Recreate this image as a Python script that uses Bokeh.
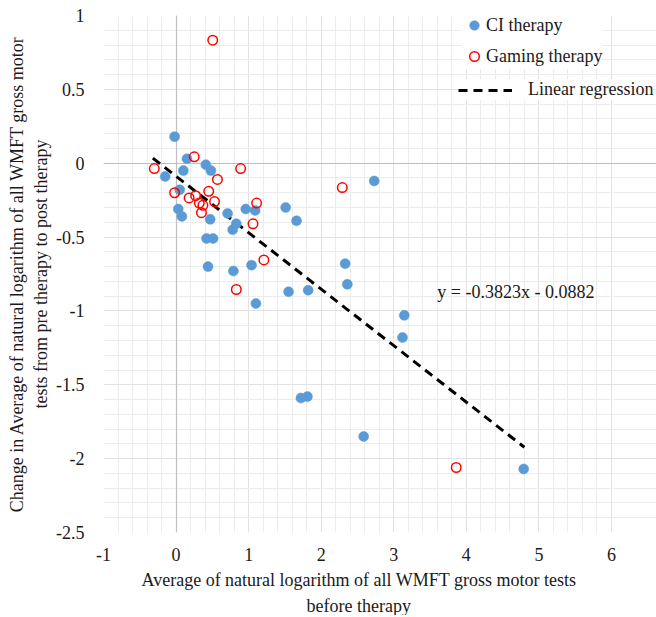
import numpy as np
from bokeh.plotting import figure
from bokeh.models import (Range1d, FixedTicker, Label, Legend, LegendItem, Grid, Title,
                          CustomJSTickFormatter)
from bokeh.embed import file_html
from bokeh.resources import INLINE

# ---- data ----
ci_x = [-0.02, 0.15, 0.41, 0.48, 0.10, -0.15, 0.05, 0.03, 0.08, 0.47, 0.71, 0.78,
        0.83, 0.96, 1.09, 0.42, 0.51, 1.51, 1.66, 0.44, 0.79, 1.04, 1.55, 1.82,
        1.10, 1.72, 1.81, 2.73, 2.33, 2.36, 3.145, 3.12, 2.585, 4.79]
ci_y = [0.18, 0.03, -0.01, -0.05, -0.05, -0.09, -0.18, -0.31, -0.36, -0.38, -0.34, -0.45,
        -0.41, -0.31, -0.32, -0.51, -0.51, -0.30, -0.39, -0.70, -0.73, -0.69, -0.87, -0.86,
        -0.95, -1.59, -1.58, -0.12, -0.68, -0.82, -1.03, -1.18, -1.85, -2.07]

gm_x = [0.505, -0.30, 0.25, 0.89, 0.57, -0.02, 0.45, 0.18, 0.27, 0.32, 0.37, 0.35,
        0.53, 1.11, 1.06, 1.21, 0.83, 2.29, 3.86]
gm_y = [0.833, -0.036, 0.043, -0.036, -0.11, -0.20, -0.19, -0.235, -0.22, -0.27, -0.285, -0.335,
        -0.26, -0.27, -0.41, -0.655, -0.855, -0.165, -2.06]

reg_slope = -0.3823
reg_intercept = -0.0882
reg_x = [-0.32, 4.80]
reg_label = "y = -0.3823x - 0.0882"

x_ticks = [-1, 0, 1, 2, 3, 4, 5, 6]
x_tick_labels = ["-1", "0", "1", "2", "3", "4", "5", "6"]
y_ticks = [-2.5, -2, -1.5, -1, -0.5, 0, 0.5, 1]
y_tick_labels = ["-2.5", "-2", "-1.5", "-1", "-0.5", "0", "0.5", "1"]

x_title_lines = ["Average of natural logarithm of all WMFT gross motor tests", "before therapy"]
y_title = "Change in Average of natural logarithm of all WMFT gross motor\ntests from pre therapy to post therapy"

FONT = "'Liberation Serif', serif"
FS = "18px"
TXT = "#1a1a1a"

X_LO, X_HI = x_ticks[0], x_ticks[-1]
# frame extends a little past x=6 so the legend text can run to the right edge
X_VIEW_HI = X_HI + 0.62

p = figure(output_backend="svg", toolbar_location=None,
           x_range=Range1d(X_LO, X_VIEW_HI), y_range=Range1d(y_ticks[0], y_ticks[-1]),
           frame_width=553, frame_height=517,
           min_border_left=103, min_border_right=0, min_border_top=15, min_border_bottom=4)
p.outline_line_color = None
p.background_fill_color = "white"

# ticks & grids
x_minor = list(np.round(np.arange(X_LO, X_HI + 0.0001, 0.2), 4))
y_minor = list(np.round(np.arange(y_ticks[0], y_ticks[-1] + 0.0001, 0.1), 4))
p.xaxis.ticker = FixedTicker(ticks=x_ticks, minor_ticks=x_minor)
p.yaxis.ticker = FixedTicker(ticks=y_ticks, minor_ticks=y_minor)
fmt_code = ("let best = 0; let d = 1e9;"
            "for (let i = 0; i < tk.length; i++) { const e = Math.abs(tk[i] - tick);"
            " if (e < d) { d = e; best = i; } }"
            "return lb[best];")
p.xaxis.formatter = CustomJSTickFormatter(args=dict(tk=x_ticks, lb=x_tick_labels), code=fmt_code)
p.yaxis.formatter = CustomJSTickFormatter(args=dict(tk=y_ticks, lb=y_tick_labels), code=fmt_code)

for g in (p.xgrid, p.ygrid):
    g.grid_line_color = "#E2E2E2"
    g.grid_line_width = 1
    g.minor_grid_line_color = "#ECECEC"
    g.minor_grid_line_width = 1
p.ygrid.bounds = (X_LO, X_HI)

for ax in (p.xaxis[0], p.yaxis[0]):
    ax.axis_line_color = None
    ax.major_tick_line_color = None
    ax.minor_tick_line_color = None
    ax.major_label_text_font = FONT
    ax.major_label_text_font_size = FS
    ax.major_label_text_font_style = "normal"
    ax.major_label_text_color = TXT
    ax.axis_label_text_font = FONT
    ax.axis_label_text_font_size = FS
    ax.axis_label_text_font_style = "normal"
    ax.axis_label_text_color = TXT
p.xaxis[0].major_label_standoff = 9
p.yaxis[0].major_label_standoff = 13

p.xaxis.bounds = (X_LO, X_HI)
p.yaxis.axis_label = y_title
p.yaxis.axis_label_standoff = 2

# x-axis title as two centred lines below the axis (centred on the -1..6 span)
t1 = Title(text=x_title_lines[0], align="left", offset=38, standoff=8,
           text_font=FONT, text_font_size=FS, text_font_style="normal", text_color=TXT)
t2 = Title(text=x_title_lines[1], align="left", offset=203, standoff=0,
           text_font=FONT, text_font_size=FS, text_font_style="normal", text_color=TXT)
p.add_layout(t1, "below")
p.add_layout(t2, "below")

# zero lines (darker grey)
zx = Grid(dimension=0, ticker=FixedTicker(ticks=[0]), grid_line_color="#BFBFBF", grid_line_width=1.2)
zy = Grid(dimension=1, ticker=FixedTicker(ticks=[0]), bounds=(X_LO, X_HI),
          grid_line_color="#BFBFBF", grid_line_width=1.2)
p.center.append(zx)
p.center.append(zy)

# regression line
reg_y = [reg_slope * v + reg_intercept for v in reg_x]
r_reg = p.line(reg_x, reg_y, line_color="black", line_width=3, line_dash="9 6")

# scatter
r_ci = p.scatter(ci_x, ci_y, size=10, fill_color="#5B9BD5", line_color="#5B9BD5", line_width=0.5)
r_gm = p.scatter(gm_x, gm_y, size=9.5, fill_color="white", fill_alpha=0.0,
                 line_color="#FF0000", line_width=1.5)

p.add_layout(Label(x=3.6, y=-0.873, text=reg_label, text_font=FONT, text_font_size=FS,
                   text_color=TXT, text_baseline="middle", text_align="left"))

leg1 = Legend(items=[LegendItem(label="CI therapy", renderers=[r_ci]),
                     LegendItem(label="Gaming therapy", renderers=[r_gm])],
              location=(359, 463), orientation="vertical",
              glyph_width=24, glyph_height=26, label_height=26, label_standoff=0,
              spacing=5, padding=0, margin=0,
              label_text_font=FONT, label_text_font_size=FS, label_text_color=TXT,
              background_fill_color="white", background_fill_alpha=1.0,
              border_line_color=None)
leg2 = Legend(items=[LegendItem(label="Linear regression", renderers=[r_reg])],
              location=(355, 432), orientation="vertical",
              glyph_width=54, glyph_height=20, label_height=20, label_standoff=16,
              padding=0, margin=0,
              label_text_font=FONT, label_text_font_size=FS, label_text_color=TXT,
              background_fill_color="white", background_fill_alpha=1.0,
              border_line_color=None)
p.add_layout(leg1)
p.add_layout(leg2)

open("out.html", "w").write(file_html(p, INLINE))
